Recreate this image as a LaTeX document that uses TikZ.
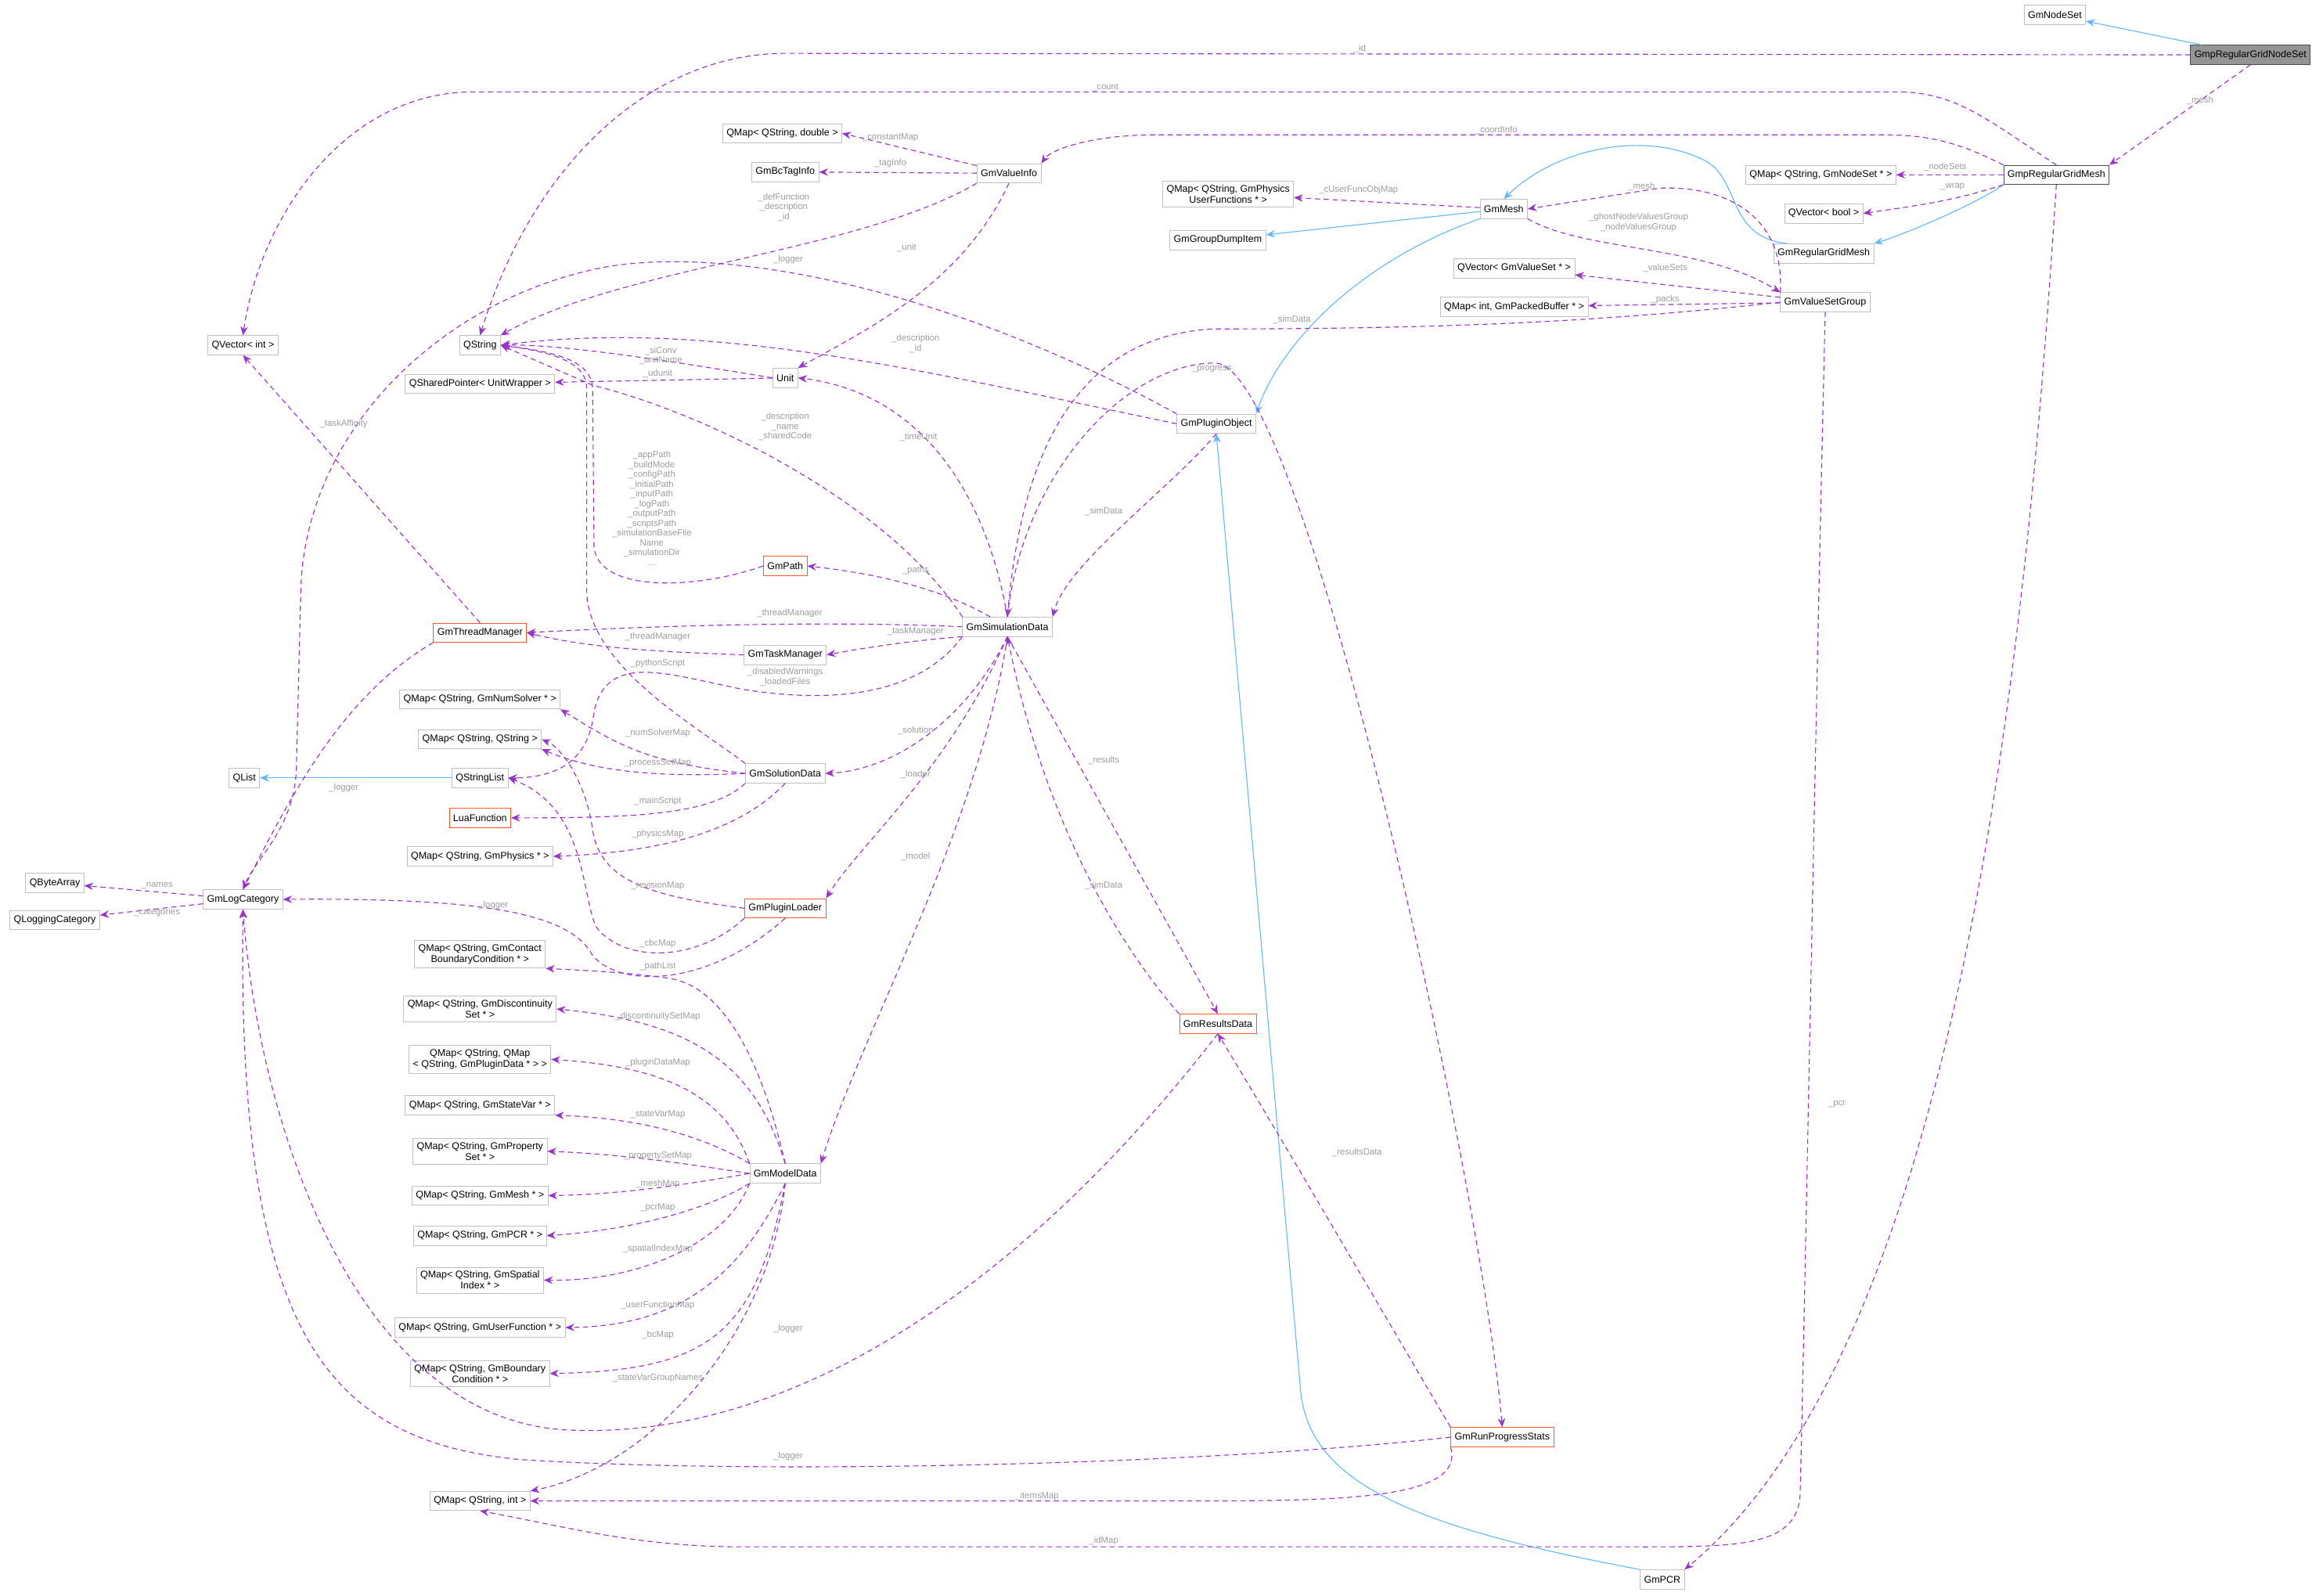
\documentclass[tikz,border=0pt]{standalone}
\usepackage{fontspec}
\setmainfont{Liberation Sans}
\usetikzlibrary{arrows.meta}

\definecolor{usecol}{HTML}{9A32CD}
\definecolor{inhcol}{HTML}{63B8FF}
\definecolor{boxcol}{HTML}{BFBFBF}
\definecolor{hotcol}{HTML}{FF5722}
\definecolor{lblcol}{HTML}{9C9C9C}

\tikzset{
  box/.style={draw=boxcol, fill=white, font=\fontsize{6.6}{7.4}\selectfont, inner sep=2.6pt, minimum height=13pt, align=center},
  hot/.style={box, draw=hotcol},
  self/.style={box, draw=black!70, fill=black!42},
  use/.style={-{Stealth[length=6pt,width=5pt]}, usecol, dash pattern=on 3.5pt off 2.5pt, line width=0.6pt},
  inh/.style={-{Stealth[length=6pt,width=5pt]}, inhcol, line width=0.6pt},
  lbl/.style={font=\fontsize{6}{6.6}\selectfont, text=lblcol, align=center, inner sep=0.5pt}
}

\begin{document}
\begin{tikzpicture}[x=1pt,y=-1pt]
    \useasboundingbox (0,0) rectangle (1568,1077);

    % right column
    \node[box] (nodeset) at (1387,10) {GmNodeSet};
    \node[self] (rgns) at (1519,37) {GmpRegularGridNodeSet};
    \node[box, draw=black!70] (rgmesh) at (1388,118) {GmpRegularGridMesh};
    \node[box] (mapnodeset) at (1229,118) {QMap< QString, GmNodeSet * >};
    \node[box] (vecbool) at (1231,144) {QVector< bool >};
    \node[box] (regmesh) at (1231,171) {GmRegularGridMesh};
    \node[box] (valsetgrp) at (1232,204) {GmValueSetGroup};
    \node[box] (pcr) at (1122,1066) {GmPCR};

    % middle right
    \node[box] (mesh) at (1015,141) {GmMesh};
    \node[box] (mapphysuf) at (829,131) {QMap< QString, GmPhysics\\UserFunctions * >};
    \node[box] (dumpitem) at (822,162) {GmGroupDumpItem};
    \node[box] (vecvalset) at (1022,181) {QVector< GmValueSet * >};
    \node[box] (mappacked) at (1022,207) {QMap< int, GmPackedBuffer * >};
    \node[box] (plugobj) at (821,286) {GmPluginObject};
    \node[hot] (results) at (822,691) {GmResultsData};
    \node[hot] (progress) at (1014,970) {GmRunProgressStats};

    % middle
    \node[box] (valinfo) at (681,117) {GmValueInfo};
    \node[box] (mapdouble) at (528,90) {QMap< QString, double >};
    \node[box] (bctag) at (530,116) {GmBcTagInfo};
    \node[box] (unit) at (530,255) {Unit};
    \node[hot] (path) at (530,382) {GmPath};
    \node[box] (simdata) at (680,423) {GmSimulationData};
    \node[box] (taskmgr) at (530,442) {GmTaskManager};
    \node[box] (solution) at (530,522) {GmSolutionData};
    \node[hot] (loader) at (530,613) {GmPluginLoader};
    \node[box] (modeldata) at (530,792) {GmModelData};

    % left middle column
    \node[box] (qstring) at (324,233) {QString};
    \node[box] (sharedptr) at (324,259) {QSharedPointer< UnitWrapper >};
    \node[hot] (threadmgr) at (324,427) {GmThreadManager};
    \node[box] (mapnumsolver) at (324,472) {QMap< QString, GmNumSolver * >};
    \node[box] (mapstr) at (324,499) {QMap< QString, QString >};
    \node[box] (strlist) at (324,525) {QStringList};
    \node[hot] (luafunc) at (324,552) {LuaFunction};
    \node[box] (mapphys) at (324,578) {QMap< QString, GmPhysics * >};
    \node[box] (mapcbc) at (324,644) {QMap< QString, GmContact\\BoundaryCondition * >};
    \node[box] (mapdisc) at (324,681) {QMap< QString, GmDiscontinuity\\Set * >};
    \node[box] (mapplugdata) at (324,715) {QMap< QString, QMap\\< QString, GmPluginData * > >};
    \node[box] (mapstatevar) at (324,746) {QMap< QString, GmStateVar * >};
    \node[box] (mapprop) at (324,777) {QMap< QString, GmProperty\\Set * >};
    \node[box] (mapmesh) at (324,807) {QMap< QString, GmMesh * >};
    \node[box] (mappcr) at (324,834) {QMap< QString, GmPCR * >};
    \node[box] (mapspatial) at (324,864) {QMap< QString, GmSpatial\\Index * >};
    \node[box] (mapuserfn) at (324,896) {QMap< QString, GmUserFunction * >};
    \node[box] (mapbc) at (324,927) {QMap< QString, GmBoundary\\Condition * >};
    \node[box] (mapint) at (324,1013) {QMap< QString, int >};

    % left column
    \node[box] (vecint) at (164,233) {QVector< int >};
    \node[box] (qlist) at (165,525) {QList};
    \node[box] (logcat) at (164,607) {GmLogCategory};
    \node[box] (bytearray) at (37,596) {QByteArray};
    \node[box] (logging) at (37,621) {QLoggingCategory};

    % inheritance
    \draw[inh] (rgns) -- (nodeset);
    \draw[inh] (rgmesh.south west) .. controls (1330,140) and (1280,160) .. (regmesh.north east);
    \draw[inh] (regmesh.165) .. controls (1165,160) and (1175,120) .. (1150,108) .. controls (1110,88) and (1050,100) .. (mesh.north);
    \draw[inh] (mesh) -- (dumpitem);
    \draw[inh] (mesh.south west) .. controls (920,175) and (865,230) .. (plugobj.north east);
    \draw[inh] (pcr.north west) .. controls (950,1030) and (885,1000) .. (878,940) -- (plugobj.south);
    \draw[inh] (strlist) -- (qlist);

    % GmpRegularGridNodeSet, GmpRegularGridMesh
    \draw[use] (rgns.west) -- (530,36) .. controls (440,36) and (360,110) .. (qstring.north)
        node[lbl, at={(918,33)}] {\_id};
    \draw[use] (rgns.south) -- (rgmesh.north east) node[lbl, at={(1485,68)}] {\_mesh};
    \draw[use] (rgmesh.north) .. controls (1340,80) and (1320,62) .. (1280,62) -- (320,62) .. controls (230,62) and (175,150) .. (vecint.north)
        node[lbl, at={(746,59)}] {\_count};
    \draw[use] (rgmesh.north west) .. controls (1320,95) and (1300,91) .. (1270,91) -- (780,91) .. controls (740,91) and (710,100) .. (valinfo.north east)
        node[lbl, at={(1010,88)}] {\_coordInfo};
    \draw[use] (rgmesh) -- (mapnodeset) node[lbl, at={(1313,113)}] {\_nodeSets};
    \draw[use] (rgmesh.south west) .. controls (1320,135) and (1300,138) .. (vecbool.east) node[lbl, at={(1318,126)}] {\_wrap};
    \draw[use] (rgmesh.south) .. controls (1370,400) and (1330,900) .. (pcr.north east) node[lbl, at={(1240,745)}] {\_pcr};

    % GmMesh, GmValueSetGroup
    \draw[use] (mesh) -- (mapphysuf) node[lbl, at={(917,128)}] {\_cUserFuncObjMap};
    \draw[use] (mesh.south east) .. controls (1070,170) and (1150,165) .. (valsetgrp.north west)
        node[lbl, at={(1106,150)}] {\_ghostNodeValuesGroup\\\_nodeValuesGroup};
    \draw[use] (valsetgrp.north west) .. controls (1205,150) and (1170,125) .. (1120,127) -- (mesh.east)
        node[lbl, at={(1108,126)}] {\_mesh};
    \draw[use] (valsetgrp) -- (vecvalset) node[lbl, at={(1124,181)}] {\_valueSets};
    \draw[use] (valsetgrp) -- (mappacked) node[lbl, at={(1124,202)}] {\_packs};
    \draw[use] (valsetgrp.west) .. controls (1100,215) and (1000,222) .. (820,222) .. controls (730,226) and (690,300) .. (simdata.north)
        node[lbl, at={(872,216)}] {\_simData};
    \draw[use] (valsetgrp.south) .. controls (1225,500) and (1218,900) .. (1215,1010) .. controls (1212,1045) and (1170,1044) .. (1100,1044) -- (500,1044) .. controls (430,1044) and (380,1030) .. (mapint.south)
        node[lbl, at={(745,1040)}] {\_idMap};

    % GmValueInfo
    \draw[use] (valinfo) -- (mapdouble.east) node[lbl, at={(601,93)}] {\_constantMap};
    \draw[use] (valinfo) -- (bctag) node[lbl, at={(601,110)}] {\_tagInfo};
    \draw[use] (valinfo.south west) .. controls (580,170) and (420,180) .. (qstring.north east)
        node[lbl, at={(529,140)}] {\_defFunction\\\_description\\\_id};
    \draw[use] (valinfo.south) .. controls (650,190) and (590,220) .. (unit.north east) node[lbl, at={(612,167)}] {\_unit};

    % GmPluginObject
    \draw[use] (plugobj.north west) .. controls (650,200) and (500,165) .. (410,180) .. controls (300,200) and (205,290) .. (203,400) -- (200,520) .. controls (198,560) and (172,580) .. (logcat.north)
        node[lbl, at={(532,175)}] {\_logger};
    \draw[use] (plugobj.west) .. controls (620,250) and (480,215) .. (qstring.east)
        node[lbl, at={(618,232)}] {\_description\\\_id};
    \draw[use] (plugobj.south) .. controls (790,330) and (720,380) .. (simdata.north east) node[lbl, at={(745,345)}] {\_simData};

    % Unit, GmPath, GmSimulationData
    \draw[use] (unit.west) .. controls (460,245) and (380,232) .. (qstring.east) node[lbl, at={(446,240)}] {\_siConv\\\_unitName};
    \draw[use] (unit) -- (sharedptr) node[lbl, at={(444,252)}] {\_udunit};
    \draw[use] (simdata.north) .. controls (665,330) and (620,265) .. (unit.east) node[lbl, at={(620,295)}] {\_timeUnit};
    \draw[use] (simdata.north west) .. controls (600,340) and (480,280) .. (400,260) -- (qstring.east)
        node[lbl, at={(530,288)}] {\_description\\\_name\\\_sharedCode};
    \draw[use] (path.west) .. controls (470,398) and (405,400) .. (401,370) -- (400,262) .. controls (399,245) and (380,238) .. (qstring.east)
        node[lbl, at={(440,343)}] {\_appPath\\\_buildMode\\\_configPath\\\_initialPath\\\_inputPath\\\_logPath\\\_outputPath\\\_scriptsPath\\\_simulationBaseFile\\Name\\\_simulationDir\\...};
    \draw[use] (simdata) .. controls (640,400) and (600,388) .. (path.east) node[lbl, at={(618,385)}] {\_paths};
    \draw[use] (simdata.west) .. controls (560,419) and (450,422) .. (threadmgr.east) node[lbl, at={(533,414)}] {\_threadManager};
    \draw[use] (simdata.south west) .. controls (620,432) and (590,436) .. (taskmgr.east) node[lbl, at={(618,426)}] {\_taskManager};
    \draw[use] (taskmgr.west) .. controls (450,440) and (400,438) .. (threadmgr.east) node[lbl, at={(444,430)}] {\_threadManager};
    \draw[use] (simdata.south west) .. controls (620,470) and (560,475) .. (500,465) .. controls (450,455) and (410,440) .. (401,480) .. controls (398,510) and (380,525) .. (strlist.east)
        node[lbl, at={(530,457)}] {\_disabledWarnings\\\_loadedFiles};
    \draw[use] (simdata.south) .. controls (650,490) and (600,520) .. (solution.east) node[lbl, at={(618,493)}] {\_solution};
    \draw[use] (simdata.south) .. controls (640,520) and (580,570) .. (loader.north east) node[lbl, at={(618,523)}] {\_loader};
    \draw[use] (simdata.south) .. controls (660,560) and (580,700) .. (modeldata.north east) node[lbl, at={(618,578)}] {\_model};
    \draw[use] (simdata.south) -- (results.north) node[lbl, at={(745,513)}] {\_results};
    \draw[use] (simdata.north) .. controls (690,320) and (760,245) .. (820,245) .. controls (880,245) and (1000,800) .. (progress.north)
        node[lbl, at={(818,249)}] {\_progress};

    % GmThreadManager, GmSolutionData, GmPluginLoader
    \draw[use] (threadmgr.north) -- (vecint.south) node[lbl, at={(232,286)}] {\_taskAffinity};
    \draw[use] (threadmgr.south west) .. controls (230,470) and (195,540) .. (logcat.north) node[lbl, at={(232,532)}] {\_logger};
    \draw[use] (solution.north west) .. controls (470,490) and (398,450) .. (396,400) -- (396,262) .. controls (396,245) and (375,238) .. (qstring.east)
        node[lbl, at={(444,448)}] {\_pythonScript};
    \draw[use] (solution.west) .. controls (440,515) and (420,505) .. (mapnumsolver.south east) node[lbl, at={(444,495)}] {\_numSolverMap};
    \draw[use] (solution.west) .. controls (440,525) and (400,520) .. (mapstr.south east) node[lbl, at={(444,515)}] {\_processSetMap};
    \draw[use] (solution.south west) .. controls (480,550) and (430,552) .. (luafunc.east) node[lbl, at={(444,541)}] {\_mainScript};
    \draw[use] (solution.south) .. controls (500,560) and (450,575) .. (mapphys.east) node[lbl, at={(444,563)}] {\_physicsMap};
    \draw[use] (loader.west) .. controls (440,605) and (405,595) .. (400,560) .. controls (396,530) and (380,505) .. (mapstr.east)
        node[lbl, at={(444,598)}] {\_revisionMap};
    \draw[use] (loader.south west) .. controls (470,650) and (420,650) .. (402,625) .. controls (392,600) and (395,545) .. (strlist.east)
        node[lbl, at={(444,652)}] {\_pathList};
    \draw[use] (loader.south) .. controls (480,665) and (420,668) .. (400,645) .. controls (385,615) and (320,606) .. (logcat.east)
        node[lbl, at={(333,611)}] {\_logger};
    \draw[use] (logcat) -- (bytearray) node[lbl, at={(106,598)}] {\_names};
    \draw[use] (logcat) -- (logging) node[lbl, at={(106,616)}] {\_categories};

    % GmModelData
    \draw[use] (modeldata.north) .. controls (515,720) and (490,665) .. (450,660) .. controls (420,656) and (395,655) .. (mapcbc.south east) node[lbl, at={(444,637)}] {\_cbcMap};
    \draw[use] (modeldata.north) .. controls (510,720) and (470,690) .. (mapdisc.east) node[lbl, at={(444,686)}] {\_discontinuitySetMap};
    \draw[use] (modeldata.north west) .. controls (490,740) and (450,720) .. (mapplugdata.east) node[lbl, at={(444,717)}] {\_pluginDataMap};
    \draw[use] (modeldata.north west) .. controls (480,770) and (440,755) .. (mapstatevar.south east) node[lbl, at={(444,752)}] {\_stateVarMap};
    \draw[use] (modeldata.west) .. controls (460,785) and (420,779) .. (mapprop.east) node[lbl, at={(444,780)}] {\_propertySetMap};
    \draw[use] (modeldata.west) .. controls (460,800) and (420,806) .. (mapmesh.east) node[lbl, at={(444,799)}] {\_meshMap};
    \draw[use] (modeldata.south west) .. controls (480,815) and (430,830) .. (mappcr.east) node[lbl, at={(444,815)}] {\_pcrMap};
    \draw[use] (modeldata.south west) .. controls (490,840) and (430,865) .. (mapspatial.east) node[lbl, at={(444,843)}] {\_spatialIndexMap};
    \draw[use] (modeldata.south) .. controls (500,860) and (460,895) .. (mapuserfn.east) node[lbl, at={(444,881)}] {\_userFunctionMap};
    \draw[use] (modeldata.south) .. controls (510,900) and (480,925) .. (mapbc.east) node[lbl, at={(444,901)}] {\_bcMap};
    \draw[use] (modeldata.south) .. controls (520,900) and (440,990) .. (mapint.north east) node[lbl, at={(444,930)}] {\_stateVarGroupNames};

    % GmResultsData, GmRunProgressStats
    \draw[use] (results.north west) .. controls (740,620) and (700,530) .. (simdata.south) node[lbl, at={(745,598)}] {\_simData};
    \draw[use] (results.south) .. controls (720,830) and (560,975) .. (380,965) .. controls (240,955) and (175,760) .. (logcat.south)
        node[lbl, at={(532,897)}] {\_logger};
    \draw[use] (progress.north west) .. controls (930,880) and (860,760) .. (results.south) node[lbl, at={(916,778)}] {\_resultsData};
    \draw[use] (progress.west) .. controls (800,990) and (500,995) .. (350,985) .. controls (220,972) and (160,900) .. (logcat.south)
        node[lbl, at={(532,983)}] {\_logger};
    \draw[use] (progress.south west) .. controls (990,1013) and (900,1013) .. (800,1013) -- (mapint.east)
        node[lbl, at={(700,1010)}] {\_itemsMap};
\end{tikzpicture}
\end{document}
